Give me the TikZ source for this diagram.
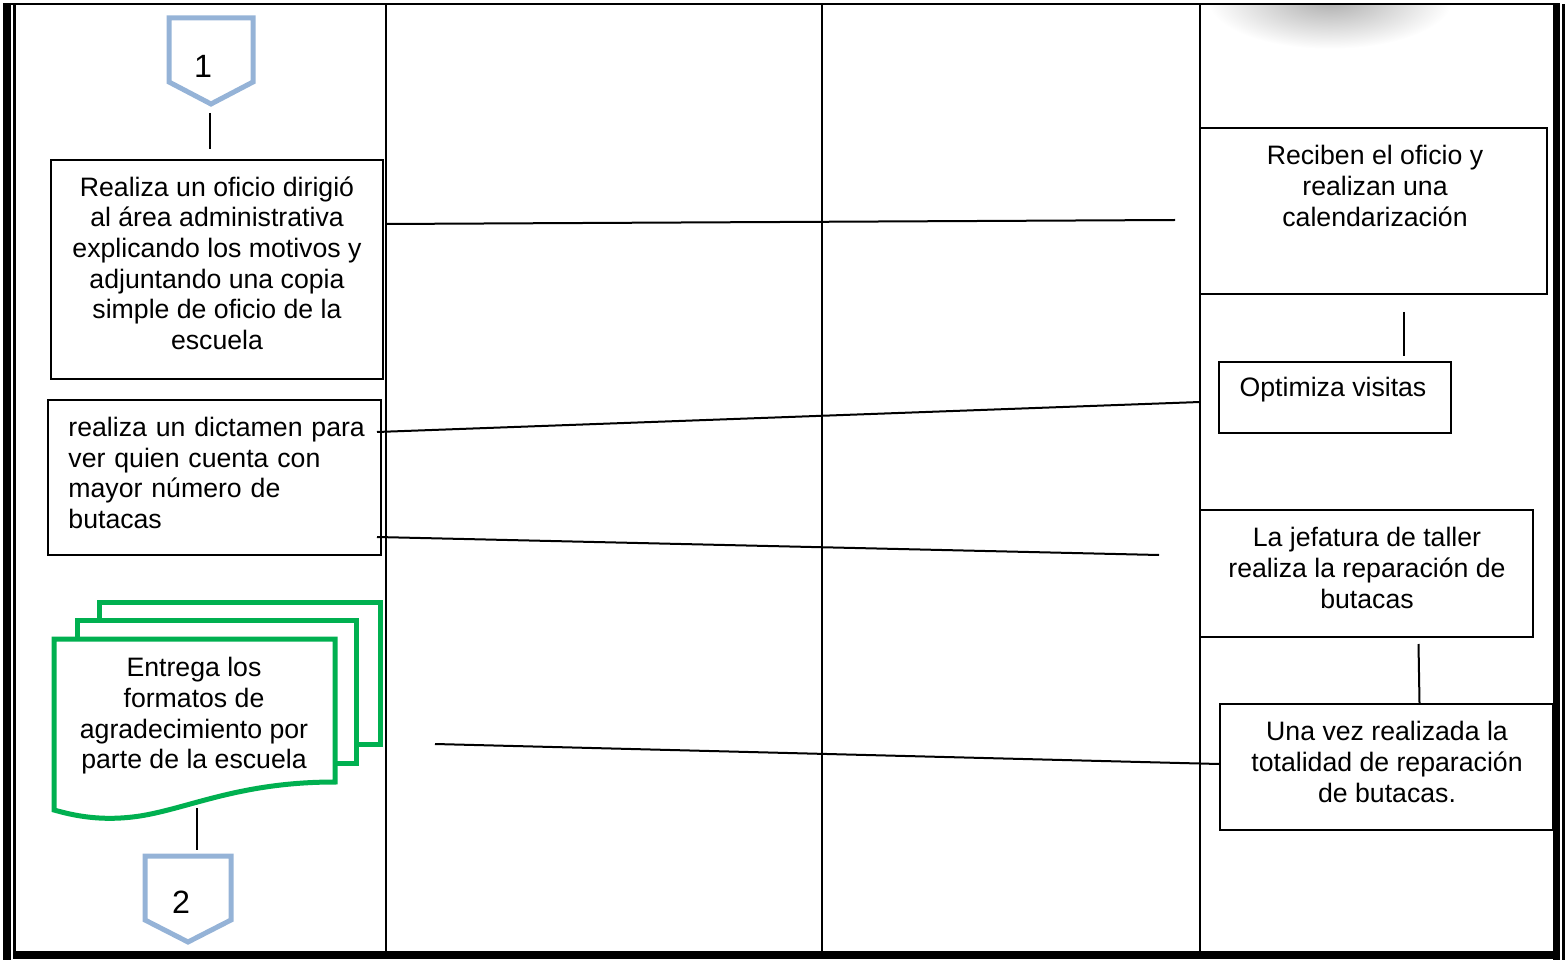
\documentclass[tikz,border=0pt]{standalone}
\usepackage{fontspec}
\setmainfont{Liberation Sans}
\usepackage{xcolor}
\usetikzlibrary{calc,fit,positioning}
\definecolor{ConnBlue}{RGB}{149,179,215}
\definecolor{DocGreen}{RGB}{0,176,80}
\tikzset{
	caja/.style={draw, line width=0.9pt, inner sep=0pt},
	texto/.style={font=\fontsize{12}{13.8}\selectfont, inner sep=0pt, align=center},
	numero/.style={font=\fontsize{14.5}{16}\selectfont, inner sep=0pt},
	linea/.style={line width=0.9pt},
	conector/.style={draw=ConnBlue, line width=2.25pt, line join=miter},
	hoja/.style={draw=DocGreen, line width=2.25pt, fill=white},
}
\begin{document}
\begin{tikzpicture}[x=0.45pt, y=-0.45pt]
	\useasboundingbox (0,0) rectangle (1567,960);
	% sombra arriba a la derecha
	\begin{scope}
		\clip (15,5) rectangle (1553,951);
		\shade[inner color=black!32, outer color=white] (1330,0) ellipse [x radius=55pt, y radius=22pt];
	\end{scope}
	% marco
	\fill (3,3) rectangle (1560,5.5);
	\fill (3,3) rectangle (11,960);
	\fill (13,4) rectangle (15.5,951);
	\fill (13,951) rectangle (1557,959);
	\fill (1553,3) rectangle (1560,960);
	\fill (1562,4) rectangle (1564.5,960);
	\foreach \x in {386,822,1200}
		\draw[linea] (\x,4) -- (\x,951);

	% carril izquierdo
	\coordinate (uno-punta) at (211,104);
	\draw[conector] (169,18) -- (253,18) -- (253,82) -- (uno-punta) -- (169,82) -- cycle;
	\node[numero] (uno) at (203,66) {1};
	\node[caja, fit={(51,160) (383,379)}] (oficio) {};
	\node[texto] (oficio-txt) at (217,263) {Realiza un oficio dirigió\\al área administrativa\\explicando los motivos y\\adjuntando una copia\\simple de oficio de la\\escuela};
	\draw[linea] ($(uno-punta)+(-1,9)$) -- ($(uno-punta |- oficio.north)+(-1,-10)$);

	\node[caja, fit={(48,400) (381,555)}] (dictamen) {};
	\node[texto, align=left, text width=140pt, anchor=west] (dictamen-txt) at (68,473) {realiza un dictamen para\\ver quien cuenta con\\mayor número de\\butacas};

	\draw[hoja] (99,602) rectangle (380,744);
	\draw[hoja] (77,620) rectangle (356,763);
	\draw[hoja] (54,639) -- (335,639) -- (335,782) .. controls (240,782) and (190,808) .. (140,816)
		.. controls (100,822) and (72,815) .. (54,810) -- cycle;
	\coordinate (entrega-base) at (197,808);
	\node[texto] (entrega) at (194,716) {Entrega los\\formatos de\\agradecimiento por\\parte de la escuela};

	\coordinate (dos-tope) at (188,856);
	\draw[conector] (145,856) -- (231,856) -- (231,920) -- (188,942) -- (145,920) -- cycle;
	\node[numero] (dos) at (181,902) {2};
	\draw[linea] (entrega-base) -- (entrega-base |- {(0,850)});

	% carril derecho
	\node[caja, fit={(1200,128) (1547,294)}] (recibe) {};
	\node[texto] (recibe-txt) at (1375,186) {Reciben el oficio y\\realizan una\\calendarización};
	\node[caja, fit={(1219,362) (1451,433)}] (optimiza) {};
	\node[texto] (optimiza-txt) at (1333,390) {Optimiza visitas};
	\draw[linea] ($(recibe.south)+(30,17)$) -- ($(recibe.south)+(30,61)$);

	\node[caja, fit={(1200,510) (1533,637)}] (jefatura) {};
	\node[texto] (jefatura-txt) at (1367,568) {La jefatura de taller\\realiza la reparación de\\butacas};
	\node[caja, fit={(1220,704) (1553,830)}] (una) {};
	\node[texto] (una-txt) at (1387,762) {Una vez realizada la\\totalidad de reparación\\de butacas.};
	\draw[linea] ($(jefatura.south)+(52,6)$) -- ($(una.north)+(33,0)$);

	% lineas entre carriles
	\coordinate (a1) at (386,224);
	\coordinate (a2) at (1175,220);
	\draw[linea] (a1) -- (a2);
	\coordinate (b1) at (377,432);
	\coordinate (b2) at (1200,402);
	\draw[linea] (b1) -- (b2);
	\coordinate (c1) at (377,537);
	\coordinate (c2) at (1159,555);
	\draw[linea] (c1) -- (c2);
	\coordinate (d1) at (435,744);
	\draw[linea] (d1) -- ($(una.west)+(0,-3)$);
\end{tikzpicture}
\end{document}
